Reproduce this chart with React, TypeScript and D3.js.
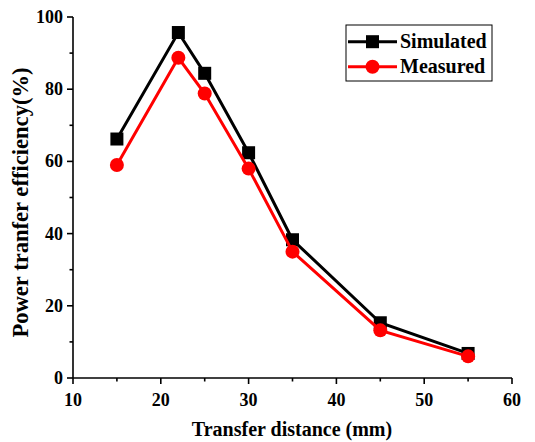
import React from "react";
import * as d3 from "d3";

const distances = [15, 22, 25, 30, 35, 45, 55];
const simulated = [66.2, 95.7, 84.4, 62.4, 38.3, 15.3, 6.8];
const measured = [59.0, 88.7, 78.8, 58.0, 35.0, 13.2, 6.0];
const xTicks = [10, 20, 30, 40, 50, 60];
const yTicks = [0, 20, 40, 60, 80, 100];

const width = 535;
const height = 442;
const margin = { top: 17, right: 23, bottom: 64, left: 73 };
const font = "'Liberation Serif', 'Times New Roman', serif";

const App = () => {
  const x = d3.scaleLinear().domain([10, 60]).range([margin.left, width - margin.right]);
  const y = d3.scaleLinear().domain([0, 100]).range([height - margin.bottom, margin.top]);

  const line = d3
    .line<number>()
    .x((_, i) => x(distances[i]))
    .y((d) => y(d));

  const xMinor = d3.range(15, 60, 10);
  const yMinor = d3.range(10, 100, 20);
  const x0 = margin.left;
  const y0 = height - margin.bottom;

  return (
    <svg width={width} height={height} style={{ position: "absolute", left: 0, top: 0, background: "#fff" }}>
      <rect width={width} height={height} fill="#fff" />

      {/* axes */}
      <line x1={x0} x2={x0} y1={y(100)} y2={y0} stroke="#000" strokeWidth={1.6} />
      <line x1={x0} x2={x(60)} y1={y0} y2={y0} stroke="#000" strokeWidth={1.6} />

      {yTicks.map((t) => (
        <g key={"y" + t}>
          <line x1={x0 - 6} x2={x0} y1={y(t)} y2={y(t)} stroke="#000" strokeWidth={1.6} />
          <text x={x0 - 10} y={y(t) + 6} textAnchor="end" fontFamily={font} fontWeight="bold" fontSize={18}>
            {t}
          </text>
        </g>
      ))}
      {yMinor.map((t) => (
        <line key={"ym" + t} x1={x0 - 3.5} x2={x0} y1={y(t)} y2={y(t)} stroke="#000" strokeWidth={1.6} />
      ))}
      {xTicks.map((t) => (
        <g key={"x" + t}>
          <line x1={x(t)} x2={x(t)} y1={y0} y2={y0 + 6} stroke="#000" strokeWidth={1.6} />
          <text x={x(t)} y={y0 + 28} textAnchor="middle" fontFamily={font} fontWeight="bold" fontSize={18}>
            {t}
          </text>
        </g>
      ))}
      {xMinor.map((t) => (
        <line key={"xm" + t} x1={x(t)} x2={x(t)} y1={y0} y2={y0 + 3.5} stroke="#000" strokeWidth={1.6} />
      ))}

      {/* axis titles */}
      <text x={292} y={436} textAnchor="middle" fontFamily={font} fontWeight="bold" fontSize={20}>
        Transfer distance (mm)
      </text>
      <text
        transform="translate(28, 202.5) rotate(-90)"
        textAnchor="middle"
        fontFamily={font}
        fontWeight="bold"
        fontSize={22.6}
      >
        Power tranfer efficiency(%)
      </text>

      {/* simulated */}
      <path d={line(simulated) || ""} fill="none" stroke="#000" strokeWidth={3} />
      {simulated.map((v, i) => (
        <rect key={"s" + i} x={x(distances[i]) - 6.5} y={y(v) - 6.5} width={13} height={13} fill="#000" />
      ))}

      {/* measured */}
      <path d={line(measured) || ""} fill="none" stroke="#ff0000" strokeWidth={3} />
      {measured.map((v, i) => (
        <circle key={"m" + i} cx={x(distances[i])} cy={y(v)} r={7} fill="#ff0000" />
      ))}

      {/* legend */}
      <g transform="translate(346, 25)">
        <rect x={0} y={0} width={146} height={56} fill="#fff" stroke="#000" strokeWidth={1} />
        <line x1={2} x2={51} y1={16.7} y2={16.7} stroke="#000" strokeWidth={3} />
        <rect x={26.5 - 6.5} y={16.7 - 6.5} width={13} height={13} fill="#000" />
        <text x={54} y={23.3} fontFamily={font} fontWeight="bold" fontSize={20}>
          Simulated
        </text>
        <line x1={2} x2={51} y1={41.7} y2={41.7} stroke="#ff0000" strokeWidth={3} />
        <circle cx={26.5} cy={41.7} r={7} fill="#ff0000" />
        <text x={54} y={48.3} fontFamily={font} fontWeight="bold" fontSize={20}>
          Measured
        </text>
      </g>
    </svg>
  );
};

export default App;
